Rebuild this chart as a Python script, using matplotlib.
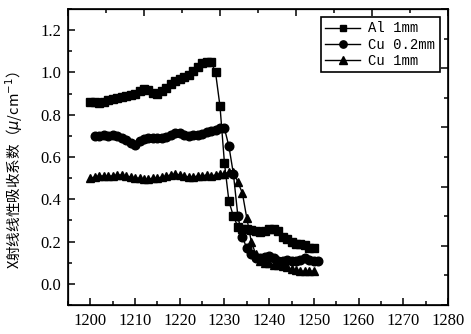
import matplotlib.pyplot as plt
import numpy as np
from matplotlib.ticker import MultipleLocator, NullFormatter

# energies (eV) and linear absorption coefficients
e_al = np.arange(1200, 1251)
al_1mm = [0.86, 0.86, 0.855, 0.86, 0.87, 0.875, 0.88, 0.885, 0.89, 0.895,
          0.90, 0.91, 0.92, 0.915, 0.905, 0.90, 0.91, 0.925, 0.945, 0.96,
          0.97, 0.98, 0.99, 1.005, 1.025, 1.045, 1.05, 1.05, 1.00, 0.84,
          0.57, 0.39, 0.32, 0.27, 0.26, 0.26, 0.255, 0.25, 0.245, 0.25,
          0.26, 0.26, 0.25, 0.22, 0.21, 0.20, 0.19, 0.19, 0.185, 0.17, 0.17]

e_cu02 = np.arange(1201, 1252)
cu_02mm = [0.70, 0.70, 0.705, 0.70, 0.705, 0.70, 0.69, 0.68, 0.665, 0.655,
           0.675, 0.685, 0.69, 0.69, 0.69, 0.69, 0.695, 0.705, 0.715, 0.715,
           0.705, 0.70, 0.705, 0.705, 0.71, 0.72, 0.725, 0.73, 0.735, 0.735,
           0.65, 0.52, 0.32, 0.22, 0.17, 0.14, 0.12, 0.12, 0.125, 0.13,
           0.12, 0.11, 0.11, 0.115, 0.11, 0.11, 0.115, 0.12, 0.115, 0.11, 0.11]

e_cu1 = np.arange(1200, 1251)
cu_1mm = [0.50, 0.505, 0.51, 0.51, 0.51, 0.51, 0.515, 0.515, 0.51, 0.505,
          0.50, 0.50, 0.495, 0.495, 0.50, 0.50, 0.505, 0.51, 0.515, 0.52,
          0.515, 0.51, 0.505, 0.505, 0.51, 0.51, 0.515, 0.51, 0.515, 0.52,
          0.52, 0.53, 0.53, 0.48, 0.43, 0.31, 0.20, 0.14, 0.11, 0.10,
          0.10, 0.09, 0.09, 0.085, 0.08, 0.07, 0.065, 0.06, 0.06, 0.06, 0.06]

labels = ["Al 1mm", "Cu 0.2mm", "Cu 1mm"]

fig = plt.figure(figsize=(4.71, 3.34), dpi=100)
ax = fig.add_axes([68/471, 29/334, 380/471, 296/334])

ax.plot(e_al, al_1mm, color="black", lw=1, marker="s", ms=5.5, label=labels[0])
ax.plot(e_cu02, cu_02mm, color="black", lw=1, marker="o", ms=6.2, label=labels[1])
ax.plot(e_cu1, cu_1mm, color="black", lw=1, marker="^", ms=6.2, label=labels[2])

ax.set_xlim(1195, 1280)
ax.set_ylim(-0.1, 1.3)
ax.xaxis.set_major_locator(MultipleLocator(10))
ax.xaxis.set_minor_locator(MultipleLocator(5))
ax.yaxis.set_major_locator(MultipleLocator(0.2))
ax.yaxis.set_minor_locator(MultipleLocator(0.1))
ax.tick_params(which="both", direction="in", width=1.1, labelsize=12)
ax.tick_params(which="major", length=5)
ax.tick_params(which="minor", length=3)
ax.tick_params(axis="x", pad=6)
ax.tick_params(axis="y", pad=5)
for t in ax.get_xticklabels() + ax.get_yticklabels():
    t.set_family("Liberation Serif")
for s in ax.spines.values():
    s.set_linewidth(1.2)

# top and right frame axes with their own ticks (no labels)
axt = ax.twiny()
axt.set_xlim(0, 5)
axt.xaxis.set_major_locator(MultipleLocator(1))
axt.xaxis.set_minor_locator(MultipleLocator(0.5))
axt.xaxis.set_major_formatter(NullFormatter())
axt.tick_params(which="both", direction="in", width=1.1)
axt.tick_params(which="major", length=5)
axt.tick_params(which="minor", length=3)

axr = ax.twinx()
axr.set_ylim(0, 5)
axr.yaxis.set_major_locator(MultipleLocator(1))
axr.yaxis.set_minor_locator(MultipleLocator(0.5))
axr.yaxis.set_major_formatter(NullFormatter())
axr.tick_params(which="both", direction="in", width=1.1)
axr.tick_params(which="major", length=5)
axr.tick_params(which="minor", length=3)

leg = axr.legend(*ax.get_legend_handles_labels(), loc="upper right",
                 prop={"family": "Liberation Mono", "size": 10},
                 fancybox=False, edgecolor="black", framealpha=1,
                 handlelength=2.5, handletextpad=0.6, labelspacing=0.15,
                 borderpad=0.3, borderaxespad=0.6, markerscale=0.85)
leg.get_frame().set_linewidth(1.2)

fig.text(14/471, 1 - 170/334, "X射线线性吸收系数（$\\mu$/cm$^{-1}$）",
         rotation=90, ha="center", va="center", fontsize=10.5,
         family=["Noto Sans CJK SC", "DejaVu Sans"])

plt.savefig("out.png", dpi=100)
